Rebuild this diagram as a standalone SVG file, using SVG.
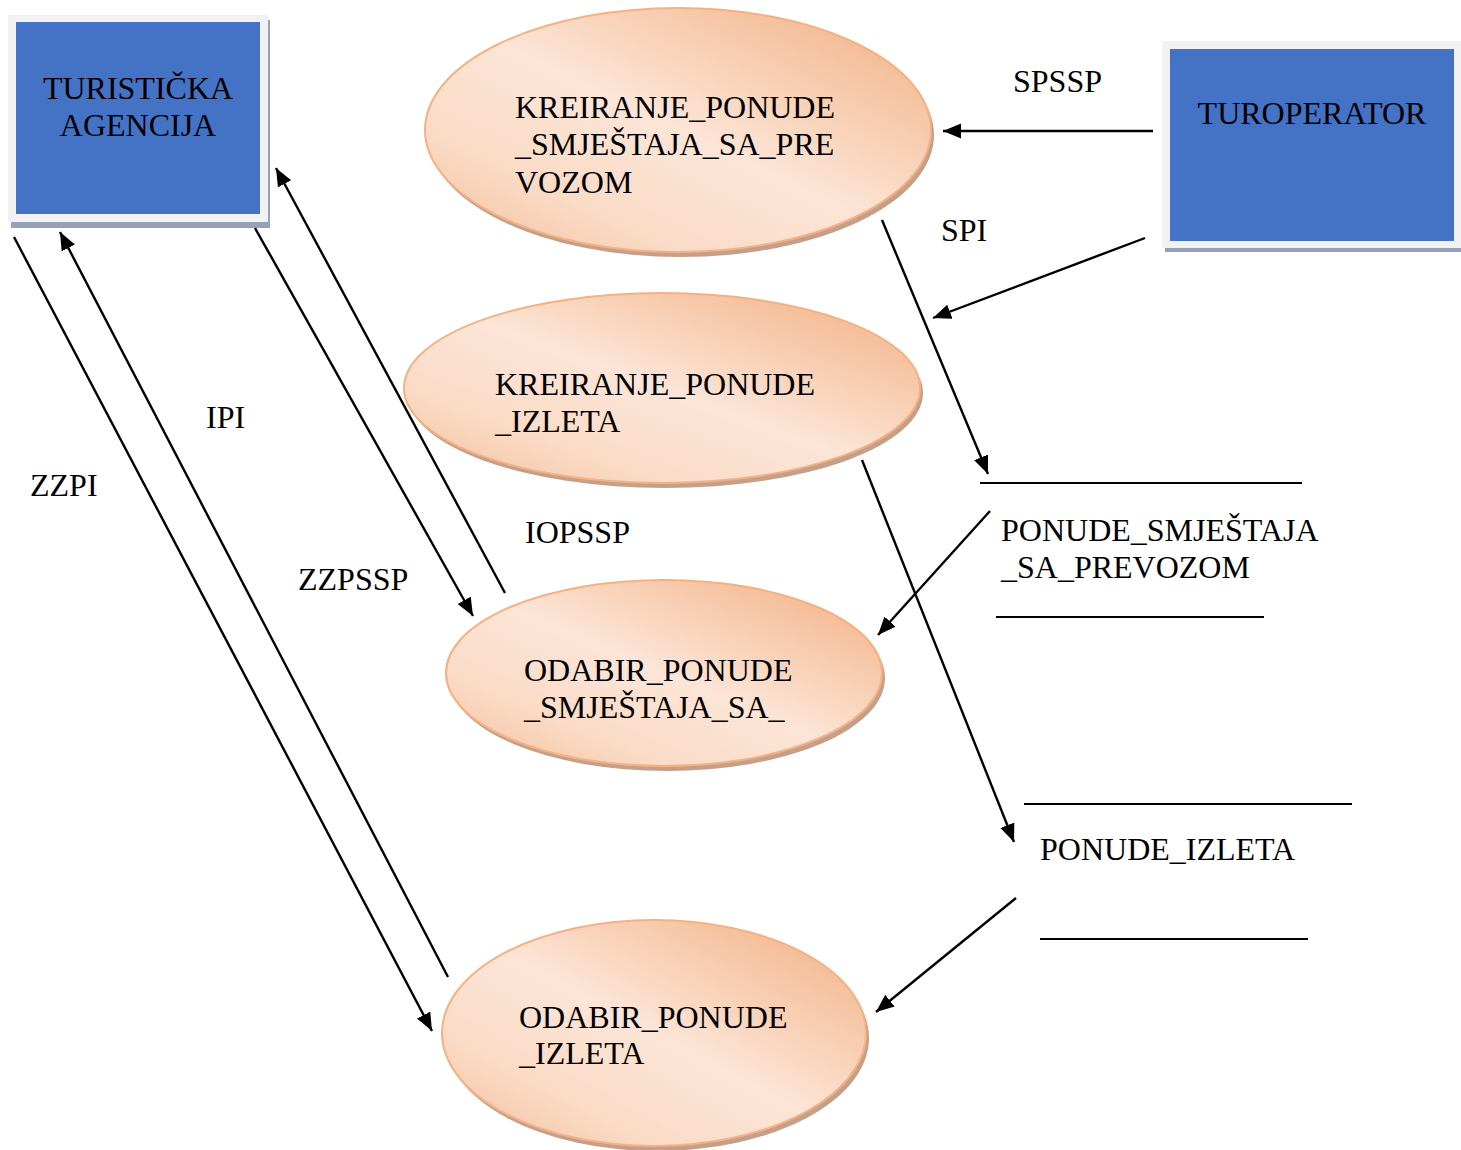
<svg xmlns="http://www.w3.org/2000/svg" width="1461" height="1150" viewBox="0 0 1461 1150">
<style>
text{font-family:"Liberation Serif","Times New Roman",serif;font-size:32px;fill:#000}
.frame{fill:#f2f2f2}
.blue{fill:#4472c4}
.bshadow{fill:#95a1b8}
.eshadow{fill:#c4a08a}
.ell{fill:url(#eg);stroke:#f4b183;stroke-width:2}
.c{stroke:#000;stroke-width:2.4;fill:none}
.arr{marker-end:url(#ah)}
.ds{stroke:#000;stroke-width:2}
</style>
<defs>
<linearGradient id="eg" x1="1" y1="0" x2="0" y2="1">
<stop offset="0" stop-color="#f2ad7e"/>
<stop offset="0.5" stop-color="#fce5d7"/>
<stop offset="0.75" stop-color="#fadbc6"/>
<stop offset="1" stop-color="#f4bd98"/>
</linearGradient>
<marker id="ah" markerUnits="userSpaceOnUse" markerWidth="20" markerHeight="16" refX="18" refY="7.5" orient="auto">
<path d="M0,0 L18,7.5 L0,15 Z" fill="#000"/>
</marker>
</defs>

<g id="turisticka-agencija">
<rect class="bshadow" x="11" y="20" width="259" height="208"/>
<rect class="frame" x="8" y="15" width="260" height="207"/>
<rect class="blue" x="16" y="22" width="244" height="192"/>
<text x="138" y="99" text-anchor="middle">TURISTIČKA</text>
<text x="138" y="136" text-anchor="middle">AGENCIJA</text>
</g>

<g id="turoperator">
<rect class="bshadow" x="1165" y="46" width="296" height="206"/>
<rect class="frame" x="1162" y="41" width="299" height="207"/>
<rect class="blue" x="1170" y="49" width="284" height="192"/>
<text x="1312" y="124" text-anchor="middle">TUROPERATOR</text>
</g>

<g id="kreiranje-ponude-smjestaja">
<ellipse class="eshadow" cx="681" cy="135" rx="253" ry="122"/>
<ellipse class="ell" cx="678" cy="130" rx="253" ry="122"/>
<text x="515" y="118">KREIRANJE_PONUDE</text>
<text x="515" y="155">_SMJEŠTAJA_SA_PRE</text>
<text x="515" y="193">VOZOM</text>
</g>

<g id="kreiranje-ponude-izleta">
<ellipse class="eshadow" cx="665" cy="393" rx="258" ry="95"/>
<ellipse class="ell" cx="662" cy="388" rx="258" ry="95"/>
<text x="495" y="395">KREIRANJE_PONUDE</text>
<text x="495" y="432">_IZLETA</text>
</g>

<g id="odabir-ponude-smjestaja">
<ellipse class="eshadow" cx="667" cy="678" rx="218" ry="93"/>
<ellipse class="ell" cx="664" cy="673" rx="218" ry="93"/>
<text x="524" y="681">ODABIR_PONUDE</text>
<text x="524" y="718">_SMJEŠTAJA_SA_</text>
</g>

<g id="odabir-ponude-izleta">
<ellipse class="eshadow" cx="657" cy="1038" rx="212" ry="113"/>
<ellipse class="ell" cx="654" cy="1033" rx="212" ry="113"/>
<text x="519" y="1028">ODABIR_PONUDE</text>
<text x="519" y="1064">_IZLETA</text>
</g>

<g id="ponude-smjestaja-sa-prevozom">
<line class="ds" x1="980" y1="483" x2="1302" y2="483"/>
<line class="ds" x1="996" y1="617" x2="1264" y2="617"/>
<text x="1001" y="541">PONUDE_SMJEŠTAJA</text>
<text x="1001" y="578">_SA_PREVOZOM</text>
</g>

<g id="ponude-izleta">
<line class="ds" x1="1024" y1="804" x2="1352" y2="804"/>
<line class="ds" x1="1040" y1="939" x2="1308" y2="939"/>
<text x="1040" y="860">PONUDE_IZLETA</text>
</g>

<g id="connectors">
<line class="c arr" x1="1153" y1="131" x2="943" y2="131"/>
<line class="c arr" x1="1145" y1="238" x2="933" y2="318"/>
<line class="c arr" x1="882" y1="220" x2="988" y2="474"/>
<line class="c arr" x1="990" y1="511" x2="878" y2="635"/>
<line class="c arr" x1="862" y1="460" x2="1014" y2="842"/>
<line class="c arr" x1="1016" y1="898" x2="876" y2="1012"/>
<line class="c arr" x1="14" y1="237" x2="432" y2="1031"/>
<line class="c arr" x1="448" y1="977" x2="60" y2="232"/>
<line class="c arr" x1="255" y1="228" x2="473" y2="616"/>
<line class="c arr" x1="505" y1="593" x2="276" y2="168"/>
<text x="1013" y="92">SPSSP</text>
<text x="941" y="241">SPI</text>
<text x="30" y="496">ZZPI</text>
<text x="206" y="428">IPI</text>
<text x="298" y="590">ZZPSSP</text>
<text x="525" y="543">IOPSSP</text>
</g>
</svg>
